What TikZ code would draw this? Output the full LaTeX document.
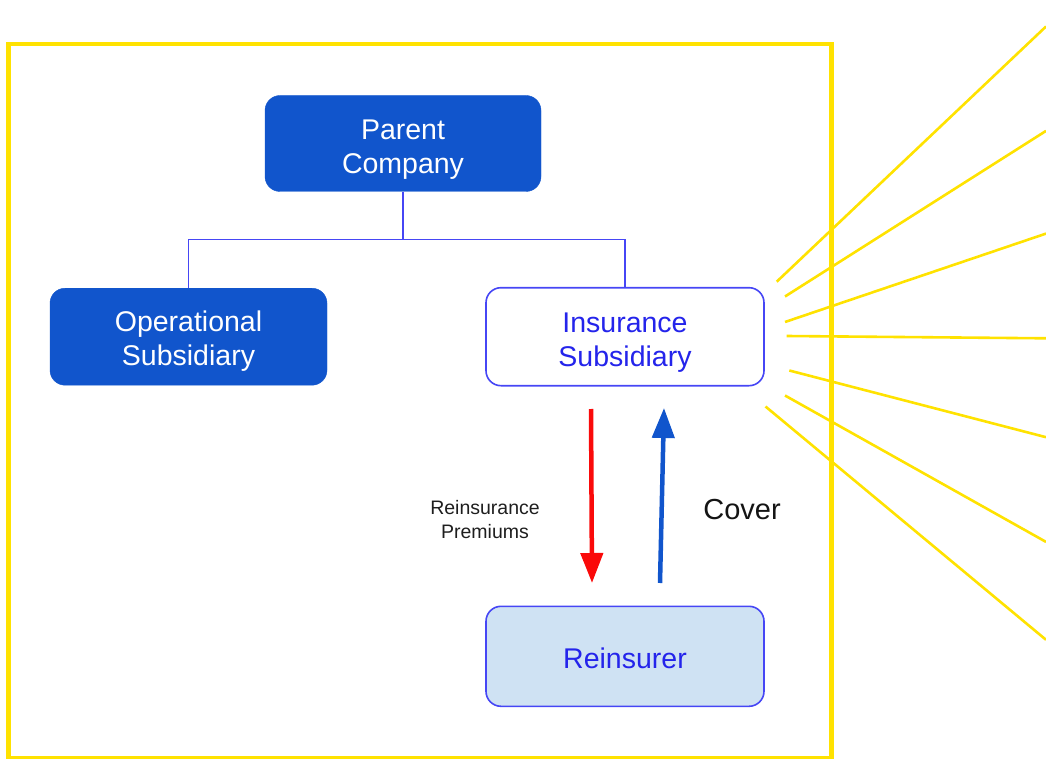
\documentclass[tikz,border=0pt]{standalone}
\usepackage{fontspec}
\setmainfont{Liberation Sans}
\usetikzlibrary{arrows.meta}
\definecolor{dkblue}{HTML}{1155CC}
\definecolor{lnblue}{RGB}{70,70,245}
\definecolor{txblue}{RGB}{36,36,235}
\definecolor{ltblue}{HTML}{CFE2F3}
\definecolor{ylw}{RGB}{255,226,0}
\definecolor{arred}{RGB}{250,10,10}
\newcommand{\mytopstrut}[1]{\rule{0pt}{#1}}
\tikzset{
  darkbox/.style={draw=dkblue, fill=dkblue, rounded corners=15pt, text=white,
    align=center, font=\fontsize{28.5}{34}\selectfont, inner sep=0pt},
  lightbox/.style={draw=lnblue, line width=1.6pt, rounded corners=15pt, text=txblue,
    align=center, font=\fontsize{28.5}{34}\selectfont, inner sep=0pt},
  orgline/.style={draw=lnblue, line width=1.4pt},
  ray/.style={draw=ylw, line width=2.6pt},
  flowarrow/.style={line width=4.5pt, -{Triangle[width=22pt,length=30pt]}},
}
\begin{document}
\begin{tikzpicture}[x=1pt,y=-1pt]
\useasboundingbox (0,0) rectangle (1046,759);
% frame
\draw[ylw, line width=4.6pt] (8.7,44) rectangle (831.7,758);
% rays
\draw[ray] (776.7,281.7) -- (1046,26.5);
\draw[ray] (785,296.5) -- (1046,130.9);
\draw[ray] (785,322) -- (1046,233.6);
\draw[ray] (786.7,336) -- (1046,338.3);
\draw[ray] (789.3,370.5) -- (1046,437.2);
\draw[ray] (785,395.5) -- (1046,541.9);
\draw[ray] (765.5,406.5) -- (1046,639.8);
% nodes
\node[darkbox, minimum width=276pt, minimum height=96pt] (parent) at (403,143.5) {\mytopstrut{31pt}Parent\\Company};
\node[darkbox, minimum width=277pt, minimum height=97pt] (oper) at (188.5,336.7) {\mytopstrut{30pt}Operational\\Subsidiary};
\node[lightbox, fill=white, minimum width=278pt, minimum height=98pt] (ins) at (625,336.7) {\mytopstrut{31pt}Insurance\\Subsidiary};
\node[lightbox, fill=ltblue, minimum width=278pt, minimum height=100pt] (reins) at (625,656.3) {\mytopstrut{25pt}Reinsurer};
% org connectors
\coordinate (junc) at (403,239.3);
\draw[orgline] (parent.south) -- (junc);
\draw[orgline] (junc) -| (oper.north);
\draw[orgline] (junc) -| (ins.north);
% flow arrows
\coordinate (ra) at (591,409);
\coordinate (rb) at (592,583);
\coordinate (ba) at (660,583);
\coordinate (bb) at (664,408);
\draw[flowarrow, arred] (ra) -- (rb);
\draw[flowarrow, dkblue] (ba) -- (bb);
% labels
\node[align=center, text={rgb,255:red,30;green,30;blue,30}, font=\fontsize{19.5}{24}\selectfont] (prem) at (485,520) {Reinsurance\\Premiums};
\node[text={rgb,255:red,20;green,20;blue,20}, font=\fontsize{29}{34}\selectfont] (cover) at (742,510) {Cover};
\end{tikzpicture}
\end{document}
